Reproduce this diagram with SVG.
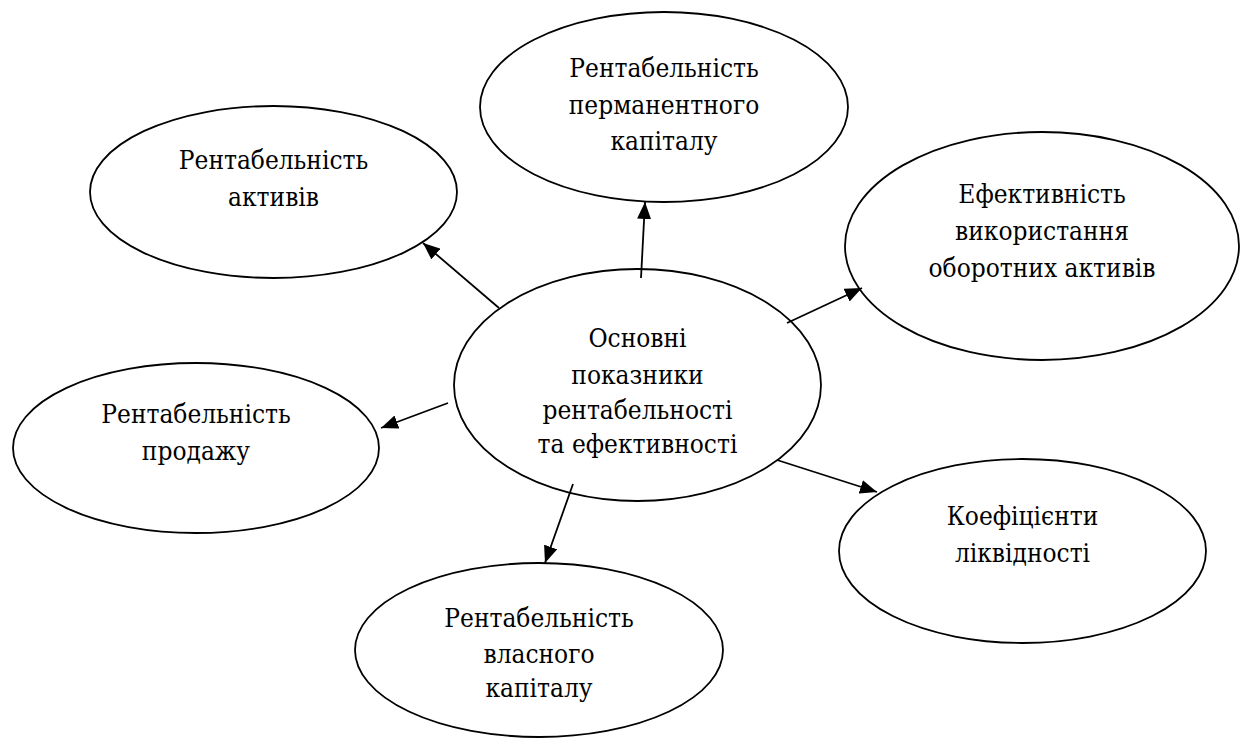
<svg xmlns="http://www.w3.org/2000/svg" width="1248" height="740" viewBox="0 0 1248 740">
<style>
.node ellipse{fill:#ffffff;stroke:#000000;stroke-width:1.8}
.node text{font-family:'DejaVu Serif Condensed','DejaVu Serif',serif;font-stretch:semi-condensed;font-size:26px;fill:#000000;text-anchor:middle}
.edge{stroke:#000000;stroke-width:1.8;fill:none;marker-end:url(#arrow)}
</style>
<defs>
<marker id="arrow" markerUnits="userSpaceOnUse" markerWidth="18" markerHeight="14" refX="17" refY="7" orient="auto">
<path d="M0,0 L17,7 L0,14 Z" fill="#000000"/>
</marker>
</defs>
<rect width="1248" height="740" fill="#ffffff"/>
<g id="n-permanent" class="node">
<ellipse cx="664" cy="107" rx="184" ry="95"/>
<text x="664" y="77">Рентабельність</text>
<text x="664" y="114">перманентного</text>
<text x="664" y="150">капіталу</text>
</g>
<g id="n-assets" class="node">
<ellipse cx="273.5" cy="192" rx="183.5" ry="86"/>
<text x="273.5" y="169">Рентабельність</text>
<text x="273.5" y="206">активів</text>
</g>
<g id="n-current" class="node">
<ellipse cx="1042" cy="246" rx="197" ry="114"/>
<text x="1042" y="203">Ефективність</text>
<text x="1042" y="240">використання</text>
<text x="1042" y="277">оборотних активів</text>
</g>
<g id="n-main" class="node">
<ellipse cx="637.5" cy="385" rx="183.5" ry="116"/>
<text x="637.5" y="347">Основні</text>
<text x="637.5" y="384">показники</text>
<text x="637.5" y="419">рентабельності</text>
<text x="637.5" y="453">та ефективності</text>
</g>
<g id="n-sales" class="node">
<ellipse cx="196" cy="448" rx="183" ry="85"/>
<text x="196" y="423">Рентабельність</text>
<text x="196" y="460">продажу</text>
</g>
<g id="n-liquidity" class="node">
<ellipse cx="1022.5" cy="551" rx="183.5" ry="92"/>
<text x="1022.5" y="525">Коефіцієнти</text>
<text x="1022.5" y="562">ліквідності</text>
</g>
<g id="n-equity" class="node">
<ellipse cx="539" cy="650" rx="184" ry="87"/>
<text x="539" y="627">Рентабельність</text>
<text x="539" y="663">власного</text>
<text x="539" y="697">капіталу</text>
</g>
<g id="connectors">
<line class="edge" x1="499" y1="308" x2="423" y2="243"/>
<line class="edge" x1="641" y1="278" x2="645" y2="202"/>
<line class="edge" x1="787" y1="323" x2="862" y2="288"/>
<line class="edge" x1="448" y1="403" x2="381" y2="428"/>
<line class="edge" x1="573" y1="484" x2="545" y2="563"/>
<line class="edge" x1="777" y1="460" x2="877" y2="492"/>
</g>
</svg>
